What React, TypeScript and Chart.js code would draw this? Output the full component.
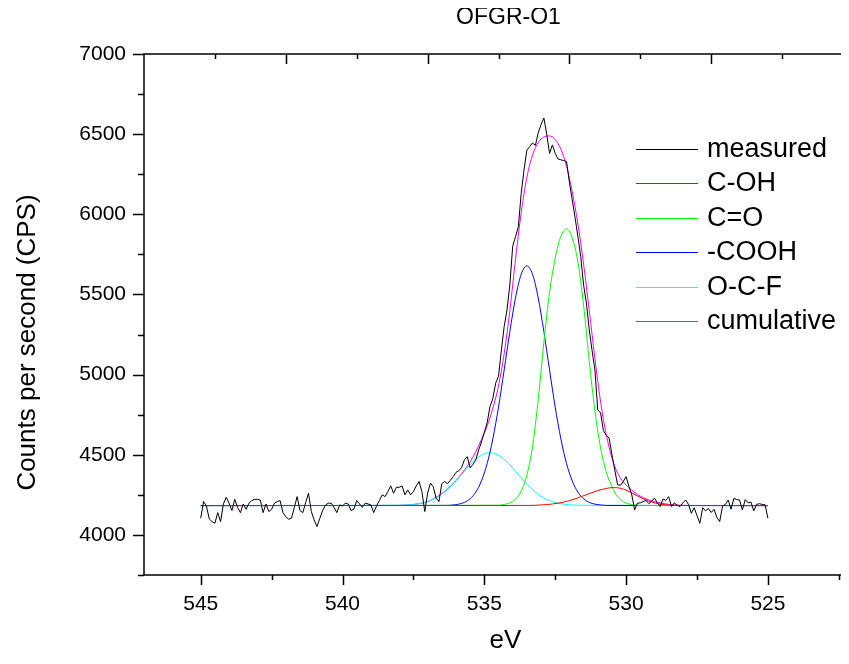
import React, { useEffect, useRef } from 'react';
import { Chart, registerables } from 'chart.js';

Chart.register(...registerables);

const FONT = 'Arial, "Liberation Sans", Helvetica, sans-serif';

// ---------------- data ----------------
const CHART_TITLE = 'OFGR-O1';
const X_TITLE = 'eV';
const Y_TITLE = 'Counts per second (CPS)';

const X_MIN = 522;
const X_MAX = 547;
const Y_MIN = 3750;
const Y_MAX = 7000;

// bottom / left axis ticks
const X_MAJOR_TICKS = [545, 540, 535, 530, 525];
const X_MINOR_TICKS = [542.5, 537.5, 532.5, 527.5, 522.5];
const Y_MAJOR_TICKS = [4000, 4500, 5000, 5500, 6000, 6500, 7000];
const Y_MINOR_TICKS = [3750, 4250, 4750, 5250, 5750, 6250, 6750];
// top / right axis ticks (second layer, offset from the bottom / left axes)
const TOP_MAJOR_TICKS = [542, 537, 532, 527];
const TOP_MINOR_TICKS = [544.5, 539.5, 534.5, 529.5, 524.5];
const RIGHT_MAJOR_TICKS = [6370, 5703, 5035, 4368];
const RIGHT_MINOR_TICKS = [6707, 6039, 5372, 4704, 4037];

// measured spectrum, 545.0 eV down to 525.0 eV, 0.1 eV per point
const MEASURED_START_EV = 545.0;
const MEASURED_STEP_EV = 0.1;
const measuredCPS = [
  4104, 4208, 4181, 4100, 4083, 4073, 4139, 4083, 4193, 4235, // 545.0 - 544.1
  4198, 4152, 4222, 4172, 4139, 4193, 4160, 4198, 4214, 4222, // 544.0 - 543.1
  4222, 4218, 4139, 4193, 4146, 4160, 4198, 4208, 4214, 4139, // 543.0 - 542.1
  4114, 4098, 4104, 4172, 4239, 4152, 4139, 4202, 4260, 4146, // 542.0 - 541.1
  4093, 4052, 4104, 4152, 4187, 4198, 4198, 4172, 4139, 4187, // 541.0 - 540.1
  4181, 4198, 4193, 4152, 4160, 4214, 4193, 4172, 4198, 4193, // 540.0 - 539.1
  4187, 4139, 4181, 4214, 4250, 4239, 4270, 4306, 4260, 4297, // 539.0 - 538.1
  4297, 4306, 4250, 4281, 4250, 4270, 4306, 4333, 4270, 4146, // 538.0 - 537.1
  4260, 4323, 4300, 4230, 4208, 4320, 4333, 4320, 4340, 4364, // 537.0 - 536.1
  4390, 4400, 4420, 4470, 4488, 4418, 4440, 4468, 4530, 4580, // 536.0 - 535.1
  4640, 4700, 4800, 4850, 4947, 4990, 5150, 5300, 5404, 5560, // 535.0 - 534.1
  5800, 5860, 5923, 6131, 6277, 6400, 6422, 6445, 6430, 6508, // 534.0 - 533.1
  6560, 6601, 6500, 6380, 6433, 6380, 6345, 6340, 6335, 6329, // 533.0 - 532.1
  6200, 6090, 5980, 5861, 5736, 5560, 5447, 5279, 5150, 5029, // 532.0 - 531.1
  4780, 4761, 4650, 4620, 4605, 4500, 4405, 4312, 4310, 4333, // 531.0 - 530.1
  4364, 4302, 4250, 4156, 4198, 4200, 4208, 4215, 4195, 4210, // 530.0 - 529.1
  4230, 4200, 4177, 4224, 4215, 4239, 4177, 4200, 4185, 4177, // 529.0 - 528.1
  4200, 4218, 4190, 4135, 4170, 4120, 4073, 4170, 4150, 4165, // 528.0 - 527.1
  4140, 4160, 4110, 4083, 4180, 4190, 4218, 4160, 4228, 4220, // 527.0 - 526.1
  4218, 4156, 4220, 4200, 4205, 4150, 4190, 4195, 4190, 4188, // 526.0 - 525.1
  4104, // 525.0
];
const measuredEV = measuredCPS.map(
  (_, i) => Math.round((MEASURED_START_EV - i * MEASURED_STEP_EV) * 10) / 10
);

// C-OH component
const cohEV = [545, 533.4, 533.2, 533.0, 532.8, 532.6, 532.4, 532.2, 532.0, 531.8, 531.6, 531.4, 531.2, 531.0, 530.8, 530.6, 530.4, 530.2, 530.0, 529.8, 529.6, 529.4, 529.2, 529.0, 528.8, 528.6, 528.4, 528.2, 525];
const cohCPS = [4183, 4184, 4185, 4187, 4189, 4193, 4198, 4205, 4214, 4225, 4238, 4251, 4264, 4277, 4286, 4293, 4295, 4291, 4279, 4262, 4243, 4226, 4211, 4200, 4192, 4188, 4185, 4184, 4183];

// C=O component
const coEV = [545, 534.5, 534.3, 534.1, 533.9, 533.7, 533.5, 533.3, 533.1, 532.9, 532.7, 532.5, 532.3, 532.1, 531.9, 531.7, 531.5, 531.3, 531.1, 530.9, 530.7, 530.5, 530.3, 530.1, 529.9, 529.7, 529.5, 525];
const coCPS = [4183, 4185, 4190, 4200, 4223, 4273, 4373, 4553, 4843, 5203, 5513, 5728, 5863, 5909, 5853, 5703, 5433, 5083, 4773, 4543, 4393, 4303, 4238, 4208, 4193, 4187, 4184, 4183];

// -COOH component
const coohEV = [545, 536.3, 536.1, 535.9, 535.7, 535.5, 535.3, 535.1, 534.9, 534.7, 534.5, 534.3, 534.1, 533.9, 533.7, 533.5, 533.3, 533.1, 532.9, 532.7, 532.5, 532.3, 532.1, 531.9, 531.7, 531.5, 531.3, 531.1, 530.9, 530.7, 525];
const coohCPS = [4183, 4184, 4187, 4192, 4203, 4226, 4267, 4337, 4445, 4599, 4797, 5029, 5268, 5479, 5626, 5678, 5626, 5479, 5268, 5029, 4797, 4599, 4445, 4337, 4267, 4226, 4203, 4192, 4187, 4184, 4183];

// O-C-F component
const ocfEV = [545, 538.0, 537.8, 537.6, 537.4, 537.2, 537.0, 536.8, 536.6, 536.4, 536.2, 536.0, 535.8, 535.6, 535.4, 535.2, 535.0, 534.8, 534.6, 534.4, 534.2, 534.0, 533.8, 533.6, 533.4, 533.2, 533.0, 532.8, 532.6, 532.4, 532.2, 532.0, 531.8, 531.6, 525];
const ocfCPS = [4183, 4185, 4186, 4188, 4192, 4198, 4208, 4222, 4242, 4268, 4299, 4336, 4377, 4418, 4456, 4486, 4506, 4513, 4506, 4486, 4456, 4418, 4377, 4336, 4299, 4268, 4242, 4222, 4208, 4198, 4192, 4188, 4186, 4185, 4183];

// cumulative fit
const cumEV = [545, 538.1, 537.9, 537.7, 537.5, 537.3, 537.1, 536.9, 536.7, 536.5, 536.3, 536.1, 535.9, 535.7, 535.5, 535.3, 535.1, 534.9, 534.7, 534.5, 534.3, 534.1, 533.9, 533.7, 533.5, 533.3, 533.1, 532.9, 532.7, 532.5, 532.3, 532.1, 531.9, 531.7, 531.5, 531.3, 531.1, 530.9, 530.7, 530.5, 530.3, 530.1, 529.9, 529.7, 529.5, 529.3, 529.1, 528.9, 528.7, 528.5, 528.3, 528.1, 527.9, 527.5, 525];
const cumCPS = [4183, 4184, 4185, 4187, 4190, 4195, 4202, 4215, 4235, 4258, 4287, 4320, 4360, 4405, 4455, 4520, 4595, 4680, 4790, 4930, 5130, 5400, 5720, 6010, 6230, 6370, 6448, 6482, 6489, 6466, 6405, 6300, 6140, 5940, 5690, 5400, 5100, 4830, 4625, 4480, 4385, 4330, 4295, 4265, 4242, 4225, 4212, 4203, 4196, 4191, 4187, 4185, 4184, 4183, 4183];

const SERIES_LABELS = ['measured', 'C-OH', 'C=O', '-COOH', 'O-C-F', 'cumulative'];
const SERIES_COLORS = ['#000000', '#ff0000', '#00ff00', '#0000ff', '#00ffff', '#ff00ff'];

// ---------------- helpers ----------------
const toPoints = (xs: number[], ys: number[]) => xs.map((x, i) => ({ x, y: ys[i] }));

const framePlugin = {
  id: 'originFrame',
  afterDraw(chart: any) {
    const { ctx, chartArea } = chart;
    const { left, right, top, bottom } = chartArea;
    const xs = chart.scales.x;
    const ys = chart.scales.y;
    ctx.save();
    ctx.strokeStyle = '#000';
    ctx.lineWidth = 1.5;
    ctx.strokeRect(left, top, right - left, bottom - top);

    const MAJ = 10;
    const MIN = 5;
    ctx.beginPath();
    const yPx = (v: number) => Math.round(ys.getPixelForValue(v)) + 0.5;
    const xPx = (v: number) => Math.round(xs.getPixelForValue(v)) + 0.5;
    Y_MAJOR_TICKS.forEach((v) => { ctx.moveTo(left, yPx(v)); ctx.lineTo(left - 11, yPx(v)); });
    Y_MINOR_TICKS.forEach((v) => { ctx.moveTo(left, yPx(v)); ctx.lineTo(left - 6, yPx(v)); });
    RIGHT_MAJOR_TICKS.forEach((v) => { ctx.moveTo(right, yPx(v)); ctx.lineTo(right - MAJ, yPx(v)); });
    RIGHT_MINOR_TICKS.forEach((v) => { ctx.moveTo(right, yPx(v)); ctx.lineTo(right - MIN, yPx(v)); });
    X_MAJOR_TICKS.forEach((v) => { ctx.moveTo(xPx(v), bottom); ctx.lineTo(xPx(v), bottom + MAJ); });
    X_MINOR_TICKS.forEach((v) => { ctx.moveTo(xPx(v), bottom); ctx.lineTo(xPx(v), bottom + MIN); });
    TOP_MAJOR_TICKS.forEach((v) => { ctx.moveTo(xPx(v), top); ctx.lineTo(xPx(v), top + MAJ); });
    TOP_MINOR_TICKS.forEach((v) => { ctx.moveTo(xPx(v), top); ctx.lineTo(xPx(v), top + MIN); });
    ctx.stroke();

    // titles
    ctx.fillStyle = '#000';
    ctx.textAlign = 'center';
    ctx.textBaseline = 'middle';
    const cx = (left + right) / 2;
    ctx.font = `23px ${FONT}`;
    ctx.fillText(CHART_TITLE, cx + 10, 18);
    ctx.font = `26px ${FONT}`;
    ctx.fillText(X_TITLE, cx + 7, bottom + 66);
    ctx.save();
    ctx.translate(28, (top + bottom) / 2 + 28);
    ctx.rotate(-Math.PI / 2);
    ctx.fillText(Y_TITLE, 0, 0);
    ctx.restore();

    // legend
    const lx0 = 636;
    const lx1 = 698;
    const tx = 707;
    const ly0 = 149;
    const dy = 34.4;
    ctx.font = `27px ${FONT}`;
    ctx.textAlign = 'left';
    SERIES_LABELS.forEach((label, i) => {
      const y = Math.round(ly0 + i * dy) + 0.5;
      ctx.strokeStyle = SERIES_COLORS[i];
      ctx.lineWidth = 1;
      ctx.beginPath();
      ctx.moveTo(lx0, y);
      ctx.lineTo(lx1, y);
      ctx.stroke();
      ctx.fillStyle = '#000';
      ctx.fillText(label, tx, y);
    });
    ctx.restore();
  },
};

export default function App() {
  const canvasRef = useRef<HTMLCanvasElement | null>(null);

  useEffect(() => {
    const canvas = canvasRef.current;
    if (!canvas) return;
    const line = (label: string, xs: number[], ys: number[], color: string, smooth: boolean) => ({
      label,
      data: toPoints(xs, ys),
      borderColor: color,
      backgroundColor: color,
      borderWidth: 1,
      pointRadius: 0,
      fill: false,
      tension: 0,
      cubicInterpolationMode: smooth ? 'monotone' : 'default',
    });
    const chart = new Chart(canvas, {
      type: 'line',
      data: {
        datasets: [
          line(SERIES_LABELS[0], measuredEV, measuredCPS, SERIES_COLORS[0], false),
          line(SERIES_LABELS[1], cohEV, cohCPS, SERIES_COLORS[1], true),
          line(SERIES_LABELS[2], coEV, coCPS, SERIES_COLORS[2], true),
          line(SERIES_LABELS[3], coohEV, coohCPS, SERIES_COLORS[3], true),
          line(SERIES_LABELS[4], ocfEV, ocfCPS, SERIES_COLORS[4], true),
          line(SERIES_LABELS[5], cumEV, cumCPS, SERIES_COLORS[5], true),
        ] as any,
      },
      options: {
        responsive: false,
        maintainAspectRatio: false,
        devicePixelRatio: 1,
        animation: false,
        events: [],
        layout: { padding: { top: 54, right: 4, left: 0, bottom: 0 } },
        plugins: {
          legend: { display: false },
          title: { display: false },
          tooltip: { enabled: false },
        },
        scales: {
          x: {
            type: 'linear',
            reverse: true,
            min: X_MIN,
            max: X_MAX,
            grid: { display: false, drawTicks: false },
            border: { display: false },
            afterBuildTicks: (s: any) => {
              s.ticks = X_MAJOR_TICKS.map((v) => ({ value: v }));
            },
            afterFit: (s: any) => {
              s.height = 89;
            },
            ticks: {
              autoSkip: false,
              maxRotation: 0,
              padding: 17,
              color: '#000',
              font: { family: FONT, size: 21 },
              callback: (v: any) => String(v),
            },
          },
          y: {
            type: 'linear',
            min: Y_MIN,
            max: Y_MAX,
            grid: { display: false, drawTicks: false },
            border: { display: false },
            afterBuildTicks: (s: any) => {
              s.ticks = Y_MAJOR_TICKS.map((v) => ({ value: v }));
            },
            afterFit: (s: any) => {
              s.width = 144;
            },
            ticks: {
              autoSkip: false,
              padding: 18,
              color: '#000',
              font: { family: FONT, size: 21 },
              callback: (v: any) => String(v),
            },
          },
        },
      } as any,
      plugins: [framePlugin],
    });
    return () => chart.destroy();
  }, []);

  return (
    <div
      style={{
        position: 'relative',
        width: 849,
        height: 664,
        margin: -8,
        overflow: 'hidden',
        background: '#fff',
      }}
    >
      <canvas ref={canvasRef} width={857} height={664} style={{ display: 'block', width: 857, height: 664 }} />
    </div>
  );
}
